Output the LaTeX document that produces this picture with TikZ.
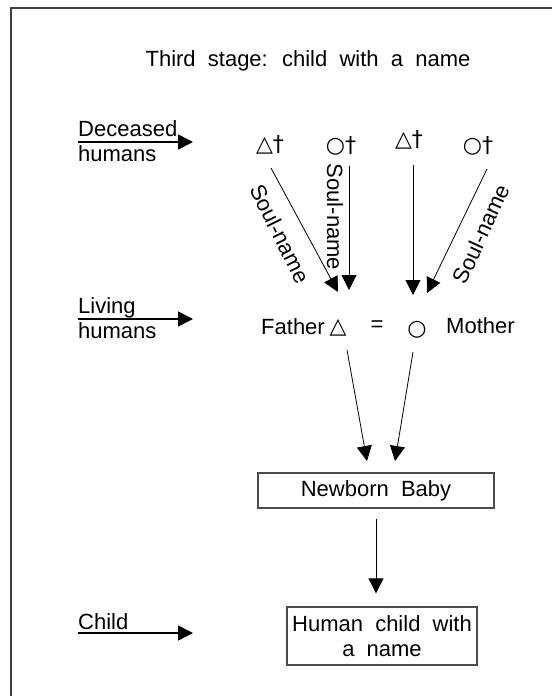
\documentclass[tikz,border=0pt]{standalone}
\usepackage{fontspec}
\setmainfont{Liberation Sans}[WordSpace=2.0]
\newfontfamily\symfont{DejaVu Sans}
\usetikzlibrary{arrows.meta}
\tikzstyle{lbl}=[inner sep=0pt, font=\fontsize{22}{25}\selectfont]
\tikzstyle{sym}=[inner sep=0pt, font=\symfont\fontsize{22}{24}\selectfont]
\tikzstyle{box}=[draw=black!70, line width=1.3pt, inner sep=0pt, align=center, font=\fontsize{22}{25}\selectfont]
\tikzstyle{link}=[line width=0.8pt, -{Triangle[length=15pt, width=15pt]}]
\tikzstyle{stage}=[line width=1.5pt, -{Triangle[length=15pt, width=15pt]}]

\begin{document}
\begin{tikzpicture}[x=1pt, y=-1pt]
        \useasboundingbox (0,0) rectangle (552,696);
        \draw[line width=2pt, black!75] (11,696) -- (11,8) -- (552,8);
        \node[lbl]                          (T)  at (308,61) {Third stage: child with a name};
        \node[lbl, align=left, anchor=west] (L1) at (78,141) {Deceased\\humans};
        \node[lbl, align=left, anchor=west] (L2) at (78,318) {Living\\humans};
        \node[lbl, anchor=south west]       (L3) at (78,630) {Child};
        \coordinate (E1) at (193,142);
        \coordinate (E2) at (193,319);
        \coordinate (E3) at (193,633);
        \node[sym] (D1) at (270,145) {△†};
        \node[sym] (D2) at (341,146) {○†};
        \node[sym] (D3) at (409,140) {△†};
        \node[sym] (D4) at (478,146) {○†};
        \node[lbl, anchor=east] (F)  at (325,327) {Father};
        \node[sym]              (FS) at (338,328) {△};
        \node[lbl]              (EQ) at (377,326) {=};
        \node[sym]              (MS) at (417,330) {○};
        \node[lbl, anchor=west] (M)  at (446,326) {Mother};
        \node[box, minimum width=236, minimum height=35] (NB) at (376,490.5) {Newborn Baby};
        \node[box, minimum width=190, minimum height=58] (HC) at (382,636) {Human child with\\a name};
        \coordinate (S1) at (271,168);
        \coordinate (S2) at (349,166);
        \coordinate (S3) at (413,165);
        \coordinate (S4) at (487,169);
        \coordinate (P1) at (338,292);
        \coordinate (P2) at (349,290);
        \coordinate (P3) at (413,295);
        \coordinate (P4) at (427,293);
        \coordinate (Q1) at (347,350);
        \coordinate (Q2) at (413,352);
        \coordinate (R1) at (367,461);
        \coordinate (R2) at (395,461);
        \draw[stage] (L1.west |- E1) -- (E1);
        \draw[stage] (L2.west |- E2) -- (E2);
        \draw[stage] (L3.west |- E3) -- (E3);
        \draw[link] (S1) -- (P1);
        \draw[link] (S2) -- (P2);
        \draw[link] (S3) -- (P3);
        \draw[link] (S4) -- (P4);
        \draw[link] (Q1) -- (R1);
        \draw[link] (Q2) -- (R2);
        \draw[link, shorten <=10pt, shorten >=13pt] (NB.south) -- (NB.south |- HC.north);
        \node[lbl, rotate=-63.6] (N1) at (280,234) {Soul-name};
        \node[lbl, rotate=-90]   (N2) at (335,217) {Soul-name};
        \node[lbl, rotate=65.3]  (N3) at (481,234) {Soul-name};
    \end{tikzpicture}
\end{document}
